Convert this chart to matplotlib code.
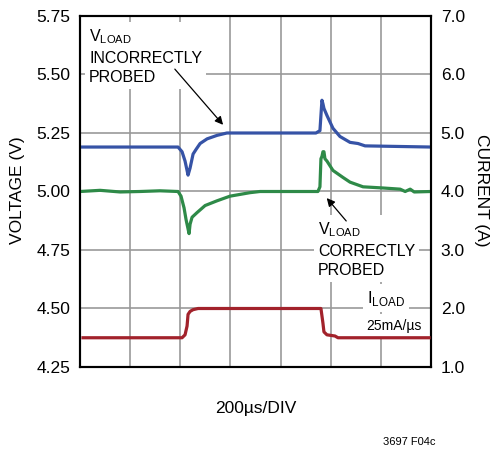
import matplotlib
matplotlib.use("Agg")
import matplotlib.pyplot as plt

plt.rcParams['font.family'] = ['Liberation Sans', 'DejaVu Sans']
plt.rcParams['mathtext.fontset'] = 'custom'
plt.rcParams['mathtext.rm'] = 'Liberation Sans'

# time in us, 200us/div
t_blue = [0, 391, 407, 419, 427, 431, 439, 451, 463, 479, 507, 547, 586,
          941, 957, 965, 969, 973, 985, 1009, 1037, 1077, 1109, 1137, 1400]
v_blue = [5.19, 5.19, 5.17, 5.13, 5.09, 5.07, 5.10, 5.16, 5.18, 5.205, 5.225, 5.24, 5.25,
          5.25, 5.26, 5.39, 5.375, 5.355, 5.325, 5.27, 5.235, 5.21, 5.205, 5.195, 5.19]

t_green = [0, 80, 160, 239, 319, 391, 403, 415, 423, 431, 435, 439, 447, 467, 499,
           546, 598, 678, 718, 949, 957, 961, 965, 969, 973, 977, 985, 1009, 1049,
           1077, 1129, 1209, 1277, 1297, 1317, 1333, 1400]
v_green = [5.0, 5.005, 4.998, 5.0, 5.003, 5.0, 4.98, 4.93, 4.88, 4.84, 4.82, 4.86, 4.89,
           4.91, 4.94, 4.96, 4.98, 4.995, 5.0, 5.0, 5.02, 5.14, 5.15, 5.17, 5.17, 5.14,
           5.13, 5.09, 5.06, 5.04, 5.02, 5.015, 5.01, 5.0, 5.01, 4.998, 5.0]

t_red = [12, 407, 419, 427, 431, 439, 451, 471, 961, 969, 973, 985, 1017, 1029, 1392]
i_red = [1.5, 1.5, 1.55, 1.7, 1.9, 1.95, 1.98, 2.0, 2.0, 1.75, 1.6, 1.55, 1.53, 1.5, 1.5]

v_ticks = [4.25, 4.50, 4.75, 5.00, 5.25, 5.50, 5.75]
i_ticks = [1.0, 2.0, 3.0, 4.0, 5.0, 6.0, 7.0]

fig = plt.figure(figsize=(4.92, 4.51), dpi=100)
ax = fig.add_axes([80/492, 1-367/451, 351/492, 351/451])
ax2 = ax.twinx()

ax.set_xlim(0, 1400)
ax.set_ylim(4.25, 5.75)
ax2.set_ylim(1.0, 7.0)
ax.set_xticks(range(0, 1401, 200))
ax.set_xticklabels([])
ax.set_yticks(v_ticks)
ax.set_yticklabels(['%.2f' % v for v in v_ticks])
ax2.set_yticks(i_ticks)
ax2.set_yticklabels(['%.1f' % i for i in i_ticks])
ax.grid(True, color='#999999', lw=1.2)
ax.set_axisbelow(True)
ax.tick_params(length=0, pad=7, labelsize=12.5)
ax2.tick_params(length=0, pad=7, labelsize=12.5)
for a in (ax, ax2):
    for s in a.spines.values():
        s.set_linewidth(1.5)

ax.plot(t_blue, v_blue, color='#3653a6', lw=2.3, zorder=3)
ax.plot(t_green, v_green, color='#2e8a48', lw=2.3, zorder=3)
ax2.plot(t_red, i_red, color='#a2222b', lw=2.3, zorder=3)

box = dict(fc='white', ec='none', pad=3)
ax.text(36, 5.70, 'V$_{\\mathrm{LOAD}}$\nINCORRECTLY\nPROBED', fontsize=11.5,
        va='top', ha='left', linespacing=1.35, bbox=box, zorder=4)
ax.annotate('', xy=(578, 5.276), xytext=(371, 5.532),
            arrowprops=dict(arrowstyle='-|>', color='black', lw=0.9, mutation_scale=12), zorder=5)
ax.text(949, 4.875, 'V$_{\\mathrm{LOAD}}$\nCORRECTLY\nPROBED', fontsize=11.5,
        va='top', ha='left', linespacing=1.35, bbox=box, zorder=4)
ax.annotate('', xy=(977, 4.981), xytext=(1069, 4.865),
            arrowprops=dict(arrowstyle='-|>', color='black', lw=0.9, mutation_scale=12), zorder=5)
ax.text(1145, 4.585, 'I$_{\\mathrm{LOAD}}$', fontsize=12, va='top', ha='left',
        bbox=box, zorder=4)
ax.text(1143, 4.41, '25mA/µs', fontsize=10, va='baseline', ha='left',
        bbox=box, zorder=4)

fig.text(18/492, 1-190/451, 'VOLTAGE (V)', rotation=90, fontsize=12.5, ha='center', va='center')
fig.text(482/492, 1-190/451, 'CURRENT (A)', rotation=270, fontsize=12.5, ha='center', va='center')
fig.text(256/492, 1-409/451, '200µs/DIV', fontsize=12.5, ha='center', va='center')
fig.text(409/492, 1-442/451, '3697 F04c', fontsize=8, ha='center', va='center')

fig.savefig('out.png', dpi=100)
